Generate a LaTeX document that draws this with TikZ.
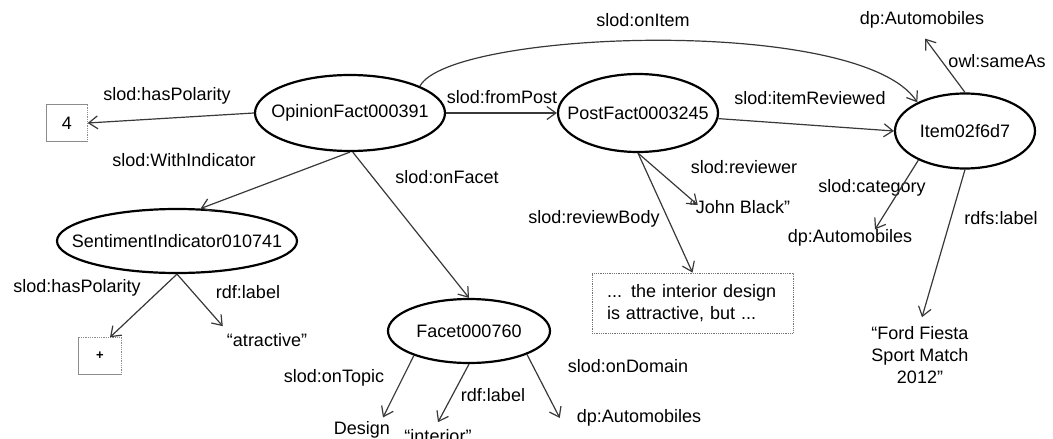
\documentclass[tikz,border=0pt]{standalone}
\usepackage{fontspec}
\setmainfont{Liberation Sans}
\usetikzlibrary{shapes.geometric,arrows.meta}
\newcommand\tight[1]{\makebox[0pt]{#1}}
\begin{document}
\begin{tikzpicture}[x=1pt,y=-1pt,
  font=\fontsize{18}{22}\selectfont,
  ent/.style={ellipse,draw=black,line width=2.2pt,inner sep=0pt},
  txt/.style={inner sep=0pt},
  arr/.style={draw=black!78,line width=1.2pt,
    -{Straight Barb[length=9pt,width=13pt]}},
  boxedge/.style={draw=black!45,line width=0.8pt},
]
\useasboundingbox (0,0) rectangle (1053,439);

% resources
\node[ent,minimum width=190,minimum height=76] (op) at (350,113) {\tight{OpinionFact000391}};
\node[ent,minimum width=160,minimum height=78] (pf) at (638,113) {\tight{PostFact0003245}};
\node[ent,minimum width=140,minimum height=75] (it) at (965,131) {\tight{Item02f6d7}};
\node[ent,minimum width=240,minimum height=64] (si) at (177,241) {\tight{SentimentIndicator010741}};
\node[ent,minimum width=162,minimum height=64] (fa) at (469,331) {\tight{Facet000760}};

% literal values and boxed values
\node[txt,minimum width=41,minimum height=36] (b4) at (67,123) {4};
\draw[boxedge] (b4.south east) -- (b4.south west) -- (b4.north west) -- (b4.north east);
\draw[boxedge,densely dotted] (b4.north east) -- (b4.south east);

\node[txt,minimum width=43,minimum height=37,font=\fontsize{13}{15}\bfseries] (pl) at (100,356) {+};
\draw[boxedge] (pl.north west) -- (pl.south west) -- (pl.south east);
\draw[boxedge,densely dotted] (pl.south east) -- (pl.north east) -- (pl.north west);

\node[draw=black!55,densely dotted,line width=0.8pt,minimum height=60,
      inner xsep=15pt,inner ysep=0pt,text width=171pt,align=left] (rb) at (692.5,303)
      {... the interior design\\is attractive, but ...};

\node[txt] (dpt) at (922,20) {dp:Automobiles};
\node[txt] (dpc) at (850,238) {dp:Automobiles};
\node[txt] (dpd) at (639,418) {dp:Automobiles};
\node[txt] (jb) at (740,207) {“John Black”};
\node[txt,align=center] (ford) at (920,355) {“Ford Fiesta\\Sport Match\\2012”};
\node[txt] (atr) at (267,340) {“atractive”};
\node[txt] (des) at (362,430) {Design};
\node[txt] (int) at (438,436) {“interior”};

% property labels
\node[txt] (lHasPolA) at (167,96) {slod:hasPolarity};
\node[txt] (lWith) at (184,160) {slod:WithIndicator};
\node[txt] (lFacet) at (447,177) {slod:onFacet};
\node[txt] (lFrom) at (502,97) {slod:fromPost};
\node[txt] (lOnItem) at (643,20) {slod:onItem};
\node[txt] (lRev) at (810,98) {slod:itemReviewed};
\node[txt] (lSame) at (997,61) {owl:sameAs};
\node[txt] (lReviewer) at (744,167) {slod:reviewer};
\node[txt] (lBody) at (594,219) {slod:reviewBody};
\node[txt] (lCat) at (872,188) {slod:category};
\node[txt] (lRdfs) at (1001,218) {rdfs:label};
\node[txt] (lHasPolB) at (77,288) {slod:hasPolarity};
\node[txt] (lRdfA) at (248,292) {rdf:label};
\node[txt] (lTopic) at (334,378) {slod:onTopic};
\node[txt] (lRdfB) at (493,395) {rdf:label};
\node[txt] (lDom) at (628,366) {slod:onDomain};

% connectors
\draw[arr] (op.west) -- (b4.east);
\draw[arr] (op.south) -- (si.54);
\draw[arr] (op.-86) -- (fa.north);
\draw[arr] (op.east) -- (pf.west);
\draw[arr] (op.21) .. controls (450,30) and (860,15) .. (it.149);
\draw[arr] (pf.-4) -- (it.west);
\draw[arr] (it.north) -- ([shift={(3pt,-10pt)}]dpt.south);
\draw[arr] (it.212) -- ([xshift=25pt]dpc.north);
\draw[arr] (it.south) -- ([shift={(2pt,9pt)}]ford.north);
\draw[arr] (pf.south) -- ([shift={(8pt,2pt)}]jb.west);
\draw[arr] (pf.south) -- (rb.north);
\draw[arr] (si.south) -- ([xshift=10pt]pl.north);
\draw[arr] (si.south) -- ([shift={(-4pt,7pt)}]atr.north west);
\draw[arr] (fa.204) -- ([shift={(21pt,4pt)}]des.north);
\draw[arr] (fa.south) -- ([yshift=7pt]int.north);
\draw[arr] (fa.-22) -- ([xshift=-17pt]dpd.west);
\end{tikzpicture}
\end{document}
